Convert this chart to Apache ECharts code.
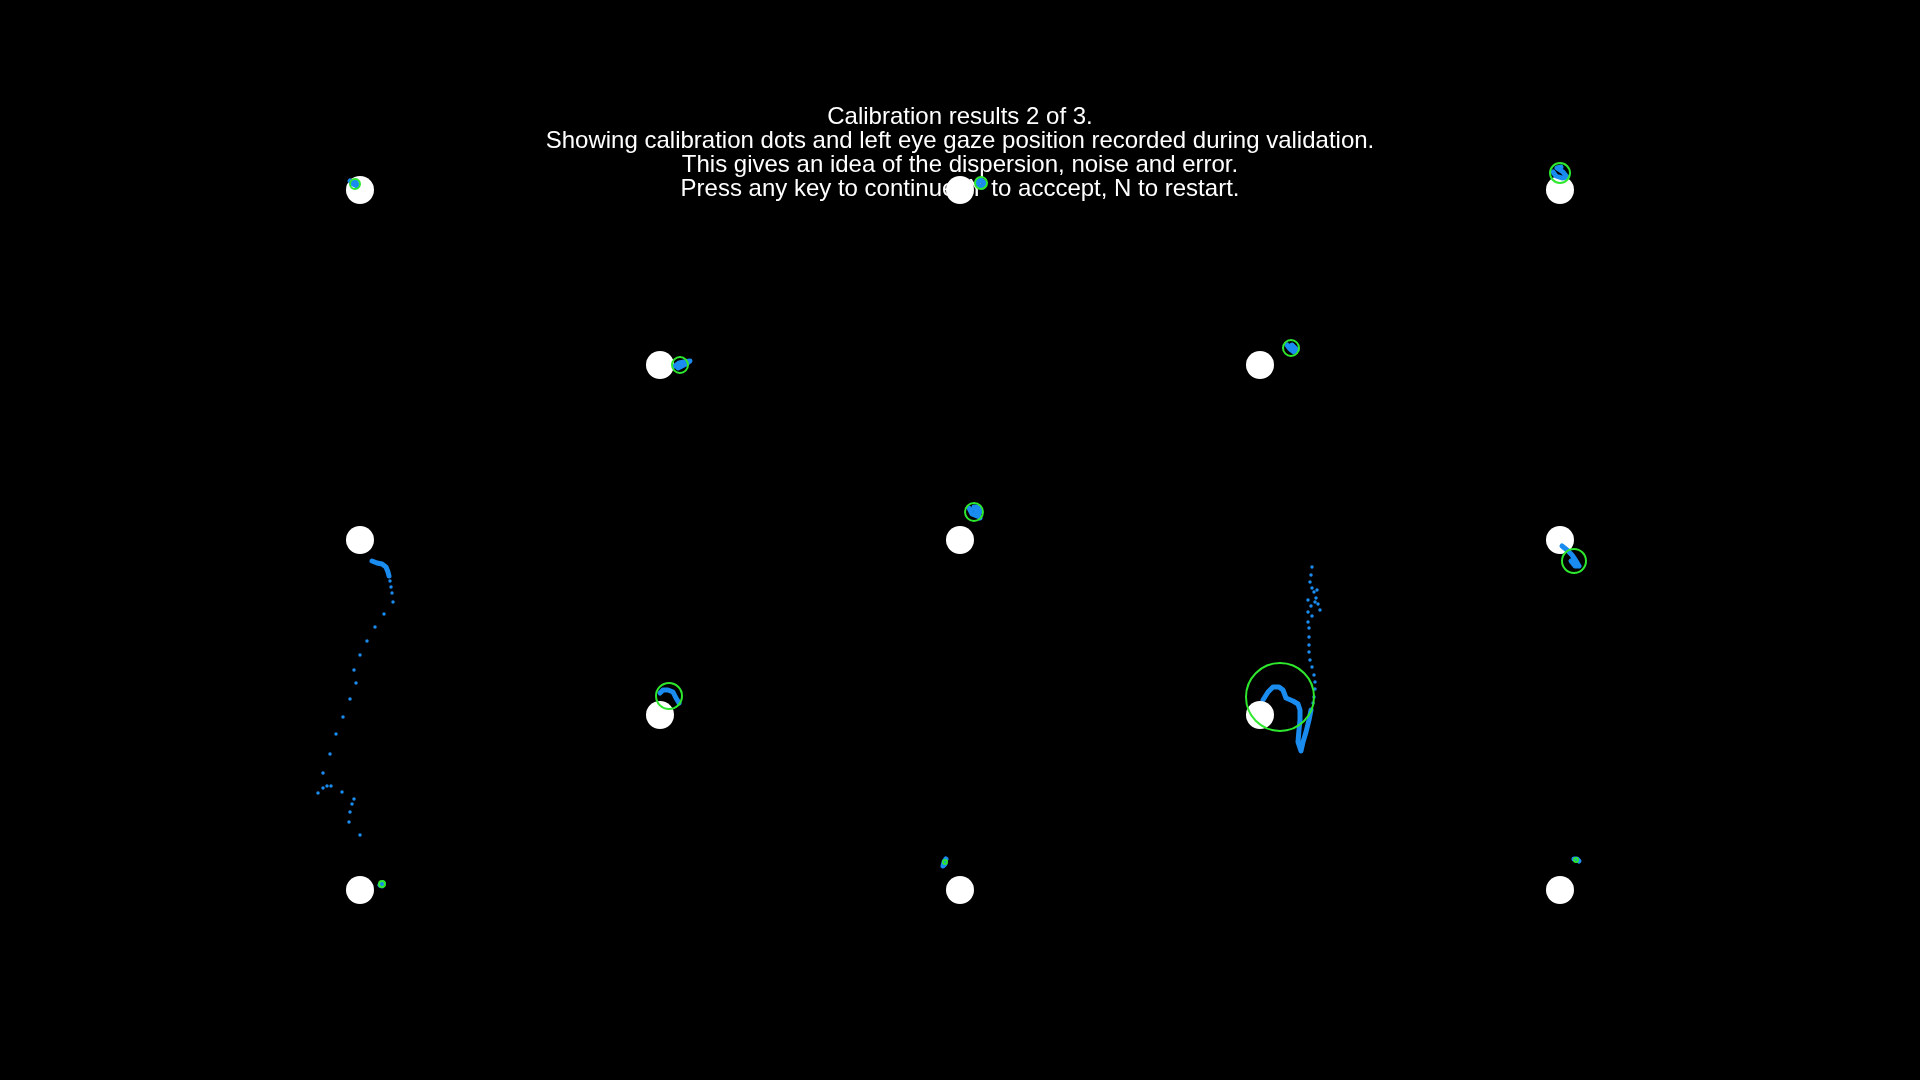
<!DOCTYPE html>
<html>
<head>
<meta charset="utf-8">
<script src="https://cdn.jsdelivr.net/npm/echarts@6/dist/echarts.min.js"></script>
<style>
  html, body { margin: 0; padding: 0; background: #000; }
  #main { width: 1920px; height: 1080px; }
</style>
</head>
<body>
<div id="main"></div>
<script>
// calibration targets (screen px)
const targetX = [360, 960, 1560, 660, 1260, 360, 960, 1560, 660, 1260, 360, 960, 1560]
const targetY = [190, 190, 190, 365, 365, 540, 540, 540, 715, 715, 890, 890, 890]

// fitted accuracy circles
const circleX = [355, 981, 1560, 680, 1291, 974, 1574, 669, 1280, 382, 945, 1576]
const circleY = [184, 183, 173, 365, 348, 512, 561, 696, 697, 884, 862, 860]
const circleR = [5, 6, 10, 8, 8, 9, 12, 13, 34, 3, 2, 2]

// dense gaze samples (drawn connected)
const traceTopLeft = [[350, 181], [353, 184], [357, 186], [359, 184], [356, 181], [352, 182]]
const traceTopCenter = [[977, 182], [981, 180], [985, 183], [983, 187], [979, 186], [978, 183]]
const traceTopRight = [[1553, 172], [1556, 176], [1562, 178], [1567, 177], [1563, 172], [1557, 168], [1561, 167]]
const traceInnerTL = [[675, 366], [679, 363], [684, 362], [690, 361], [686, 364], [678, 368]]
const traceInnerTR = [[1287, 345], [1290, 349], [1294, 352], [1297, 350], [1292, 345], [1289, 347]]
const traceCenter = [[969, 508], [972, 514], [977, 516], [980, 512], [979, 507], [974, 507], [980, 518]]
const traceMidLeft = [[372, 561], [377, 563], [382, 564], [386, 567], [388, 572], [389, 576]]
const traceMidRight = [[1562, 546], [1567, 550], [1572, 555], [1576, 561], [1579, 566], [1575, 566], [1571, 561]]
const traceInnerBL = [[660, 693], [663, 690], [668, 690], [673, 692], [676, 698], [679, 703]]
const traceInnerBR = [[1263, 700], [1268, 692], [1273, 687], [1279, 687], [1283, 690], [1286, 698], [1293, 701],
  [1298, 704], [1300, 710], [1300, 720], [1299, 730], [1298, 742], [1301, 751], [1303, 742], [1306, 732],
  [1309, 720], [1311, 710]]
const traceBottomLeft = [[380, 885], [383, 883], [385, 884], [382, 886]]
const traceBottomCenter = [[946, 859], [944, 862], [943, 866], [945, 864]]
const traceBottomRight = [[1574, 859], [1577, 859], [1579, 861], [1576, 861]]

// sparse gaze samples (single dots)
const dotsMidLeft = [[390, 581], [391, 587], [392, 593], [393, 602], [384, 614], [375, 627], [367, 641],
  [360, 655], [354, 670], [356, 683], [350, 699], [343, 717], [336, 734], [330, 754], [323, 773],
  [318, 793], [323, 788], [327, 786], [331, 786], [342, 792], [354, 799], [352, 804], [350, 812],
  [349, 822], [360, 835]]
const dotsInnerBR = [[1312, 567], [1311, 575], [1310, 582], [1312, 588], [1317, 590], [1314, 592],
  [1316, 598], [1308, 600], [1315, 602], [1318, 604], [1311, 606], [1320, 610], [1308, 612], [1312, 616],
  [1308, 622], [1309, 628], [1309, 637], [1309, 645], [1309, 652], [1310, 660], [1312, 667],
  [1314, 675], [1315, 682], [1315, 689], [1314, 697], [1313, 703]]

const titleLines = [
  'Calibration results 2 of 3.',
  'Showing calibration dots and left eye gaze position recorded during validation.',
  'This gives an idea of the dispersion, noise and error.',
  'Press any key to continue, Y to acccept, N to restart.'
]

const gazeTraces = [traceTopLeft, traceTopCenter, traceTopRight, traceInnerTL, traceInnerTR, traceCenter,
  traceMidLeft, traceMidRight, traceInnerBL, traceInnerBR, traceBottomLeft, traceBottomCenter, traceBottomRight]

var chart = echarts.init(document.getElementById('main'))

var series = []
series.push({
  type: 'scatter',
  name: 'targets',
  data: targetX.map((x, i) => [x, targetY[i]]),
  symbol: 'circle',
  symbolSize: 28,
  itemStyle: { color: '#ffffff', opacity: 1 },
  z: 3
})
gazeTraces.forEach(tr => {
  series.push({
    type: 'line',
    data: tr,
    showSymbol: false,
    lineStyle: { color: '#1a8cf0', width: 5, cap: 'round', join: 'round' },
    // the big trace sits under its target dot
    z: tr === traceInnerBR ? 2 : 4
  })
})
series.push({
  type: 'scatter',
  name: 'samples',
  data: dotsMidLeft.concat(dotsInnerBR),
  symbolSize: 3.5,
  itemStyle: { color: '#1a8cf0', opacity: 1 },
  z: 4
})
series.push({
  type: 'scatter',
  name: 'circles',
  data: circleX.map((x, i) => [x, circleY[i], circleR[i]]),
  symbolSize: v => v[2] * 2,
  itemStyle: { color: 'rgba(0,0,0,0)', borderColor: '#2ee82e', borderWidth: 2, opacity: 1 },
  z: 5
})

var option = {
  backgroundColor: '#000000',
  animation: false,
  title: {
    text: titleLines.join('\n'),
    left: 'center',
    top: 100,
    padding: [5, 0, 5, 6],
    z: 1,
    textStyle: {
      color: '#ffffff',
      fontFamily: 'Liberation Sans',
      fontWeight: 'normal',
      fontSize: 24,
      lineHeight: 24
    }
  },
  grid: { left: 0, right: 0, top: 0, bottom: 0 },
  xAxis: { type: 'value', min: 0, max: 1920, show: false },
  yAxis: { type: 'value', min: 0, max: 1080, inverse: true, show: false },
  series: series
}
chart.setOption(option)
</script>
</body>
</html>
